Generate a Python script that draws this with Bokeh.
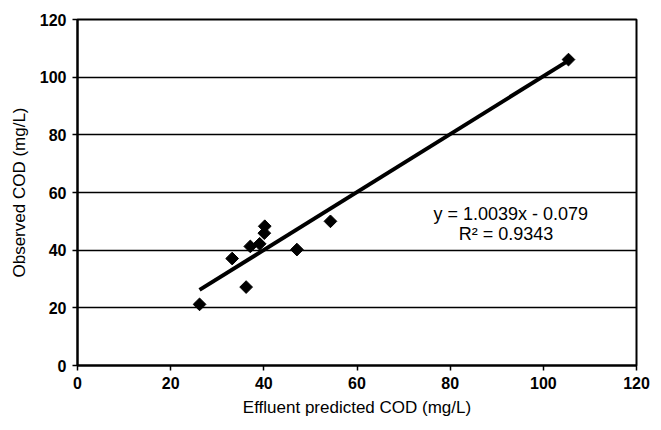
import math
from bokeh.plotting import figure
from bokeh.models import Label, FixedTicker, Range1d
from bokeh.embed import file_html
from bokeh.resources import INLINE

predicted = [26.2, 36.2, 33.2, 37.1, 39.1, 40.1, 40.2, 47.1, 54.3, 105.4]
observed = [21.2, 27.2, 37.1, 41.3, 42.2, 45.9, 48.3, 40.2, 50.0, 106.1]
slope = 1.0039
intercept = -0.079
eq_text = "y = 1.0039x - 0.079"
r2_text = "R² = 0.9343"
ticks = [0, 20, 40, 60, 80, 100, 120]

p = figure(width=661, height=430, output_backend="svg", toolbar_location=None,
           x_range=Range1d(0, 120), y_range=Range1d(0, 120),
           min_border_left=77, min_border_right=25, min_border_top=19, min_border_bottom=65)
p.background_fill_color = "white"
p.border_fill_color = "white"
p.outline_line_color = "black"
p.outline_line_width = 2

p.xgrid.grid_line_color = None
p.ygrid.grid_line_color = "black"
p.ygrid.grid_line_width = 1.5
p.ygrid.ticker = FixedTicker(ticks=ticks)
p.xaxis.ticker = FixedTicker(ticks=ticks)
p.yaxis.ticker = FixedTicker(ticks=ticks)

for ax in (p.xaxis, p.yaxis):
    ax.axis_line_color = "black"
    ax.axis_line_width = 2
    ax.major_tick_line_color = "black"
    ax.major_tick_line_width = 1.5
    ax.major_tick_in = 0
    ax.major_tick_out = 5
    ax.minor_tick_line_color = None
    ax.major_label_text_font = "Liberation Sans"
    ax.major_label_text_font_style = "bold"
    ax.major_label_text_font_size = "16px"
    ax.major_label_text_color = "black"
    ax.axis_label_text_font = "Liberation Sans"
    ax.axis_label_text_font_style = "normal"
    ax.axis_label_text_font_size = "17px"
    ax.axis_label_text_color = "black"

p.xaxis.axis_label = "Effluent predicted COD (mg/L)"
p.yaxis.axis_label = "Observed COD (mg/L)"
p.xaxis.major_label_standoff = 6
p.yaxis.major_label_standoff = 6
p.xaxis.axis_label_standoff = 6
p.yaxis.axis_label_standoff = 8

xmin, xmax = min(predicted), max(predicted)
p.line([xmin, xmax], [slope * xmin + intercept, slope * xmax + intercept],
       line_color="black", line_width=4)
p.scatter(predicted, observed, marker="square", angle=math.pi / 4, size=9, color="black")

p.add_layout(Label(x=93, y=52.7, text=eq_text, text_align="center", text_baseline="middle",
                   text_font="Liberation Sans", text_font_size="18px", text_color="black"))
p.add_layout(Label(x=92, y=45.6, text=r2_text, text_align="center", text_baseline="middle",
                   text_font="Liberation Sans", text_font_size="18px", text_color="black"))

open("out.html", "w").write(file_html(p, INLINE))
